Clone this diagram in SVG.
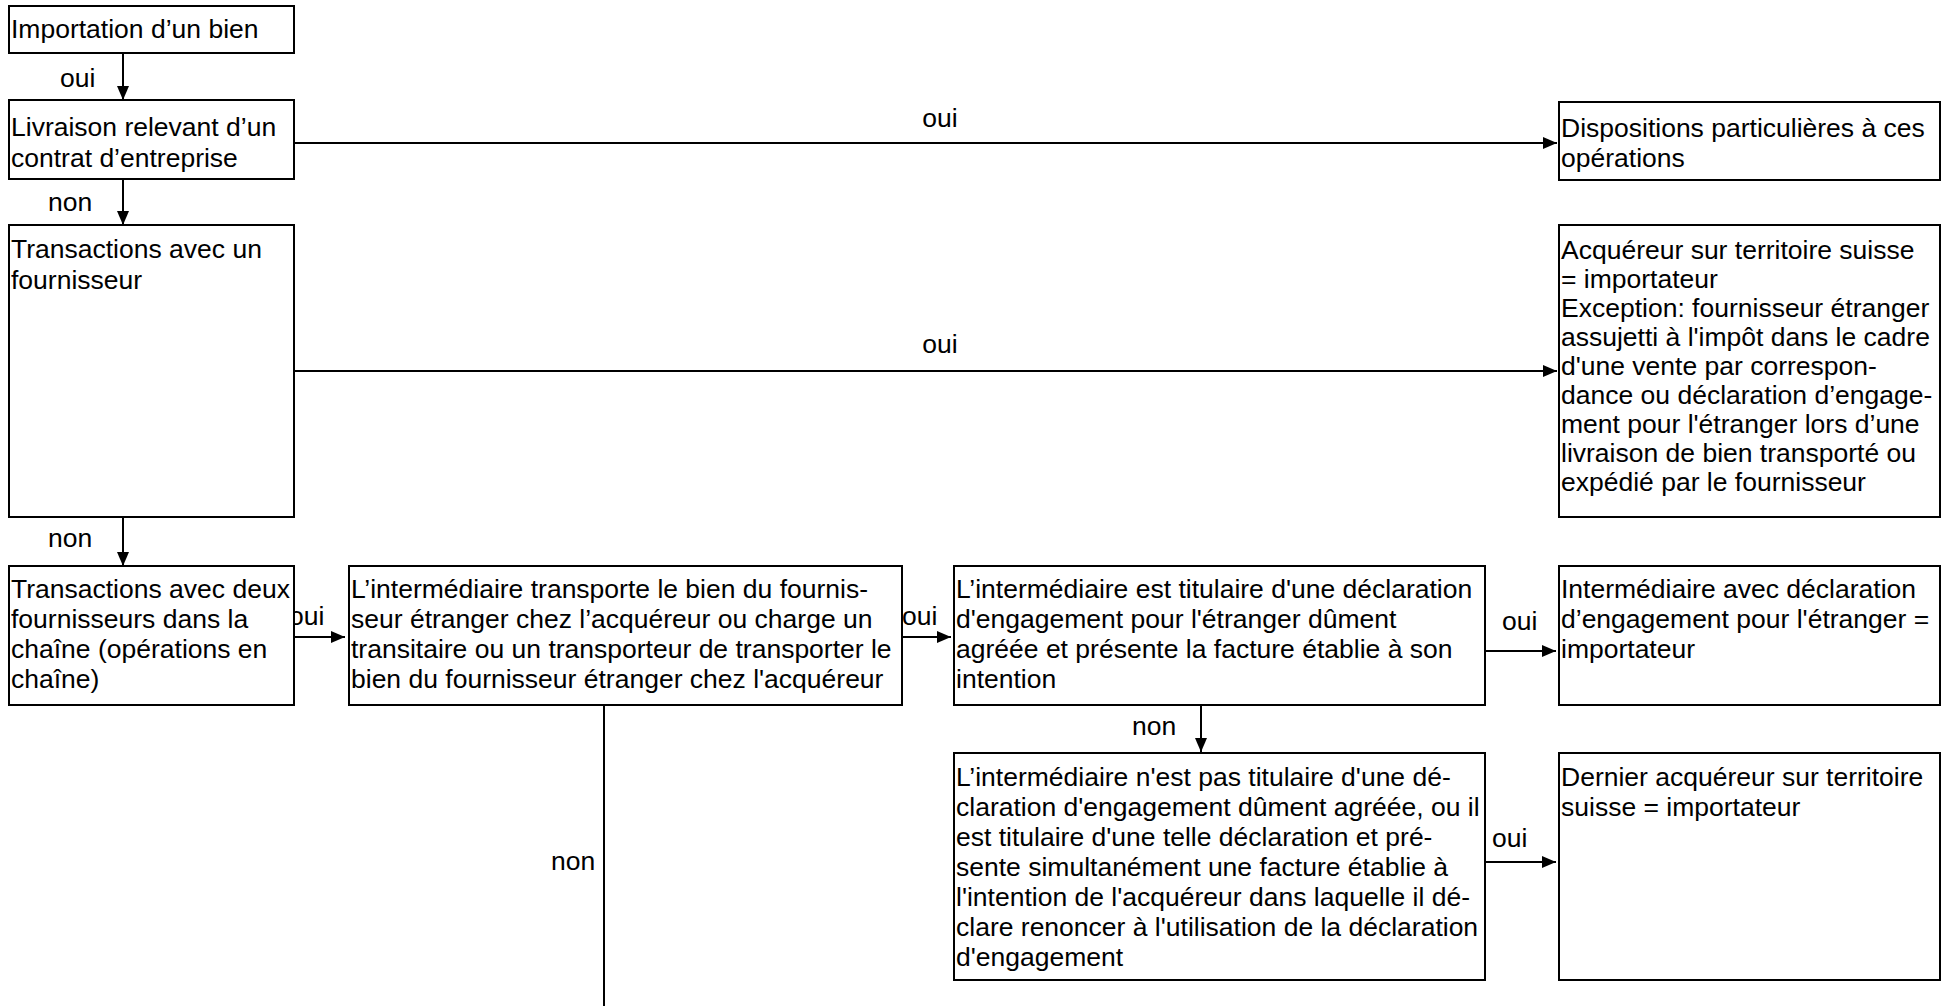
<svg xmlns="http://www.w3.org/2000/svg" width="1945" height="1006" viewBox="0 0 1945 1006">
  <style>
    .box { fill: #ffffff; stroke: #000000; stroke-width: 2; }
    .t { font-family: "Liberation Sans", Arial, sans-serif; font-size: 26.5px; fill: #000000; }
    .lbl { font-family: "Liberation Sans", Arial, sans-serif; font-size: 26.5px; fill: #000000; }
    .edge { stroke: #000000; stroke-width: 2; fill: none; }
    .arrow { marker-end: url(#head); }
  </style>
  <defs>
    <marker id="head" markerUnits="userSpaceOnUse" markerWidth="14" markerHeight="12" refX="14" refY="6" orient="auto">
      <path d="M0,0 L14,6 L0,12 z" fill="#000000"/>
    </marker>
  </defs>

  <rect width="1945" height="1006" fill="#ffffff"/>

  <!-- connectors -->
  <g id="connectors">
    <line class="edge arrow" x1="123" y1="53" x2="123" y2="100"/>
    <line class="edge arrow" x1="123" y1="179" x2="123" y2="225"/>
    <line class="edge arrow" x1="123" y1="517" x2="123" y2="566"/>
    <line class="edge arrow" x1="295" y1="143" x2="1557" y2="143"/>
    <line class="edge arrow" x1="295" y1="371" x2="1557" y2="371"/>
    <line class="edge arrow" x1="288" y1="637" x2="345" y2="637"/>
    <line class="edge arrow" x1="893" y1="637" x2="951" y2="637"/>
    <line class="edge arrow" x1="1485" y1="651" x2="1556" y2="651"/>
    <line class="edge arrow" x1="1201" y1="705" x2="1201" y2="752"/>
    <line class="edge arrow" x1="1485" y1="862" x2="1556" y2="862"/>
    <line class="edge" x1="604" y1="705" x2="604" y2="1006"/>

    <text class="lbl" x="60" y="87">oui</text>
    <text class="lbl" x="48" y="211">non</text>
    <text class="lbl" x="48" y="547">non</text>
    <text class="lbl" x="940" y="127" text-anchor="middle">oui</text>
    <text class="lbl" x="940" y="353" text-anchor="middle">oui</text>
    <text class="lbl" x="289" y="625">oui</text>
    <text class="lbl" x="902" y="625">oui</text>
    <text class="lbl" x="1502" y="630">oui</text>
    <text class="lbl" x="1132" y="735">non</text>
    <text class="lbl" x="1492" y="847">oui</text>
    <text class="lbl" x="551" y="870">non</text>
  </g>

  <!-- nodes -->
  <g id="n-import">
    <rect class="box" x="9" y="6" width="285" height="47"/>
    <text class="t" x="11" y="38">Importation d’un bien</text>
  </g>

  <g id="n-contrat">
    <rect class="box" x="9" y="100" width="285" height="79"/>
    <text class="t" x="11" y="136">Livraison relevant d’un</text>
    <text class="t" x="11" y="167">contrat d’entreprise</text>
  </g>

  <g id="n-un-fournisseur">
    <rect class="box" x="9" y="225" width="285" height="292"/>
    <text class="t" x="11" y="258">Transactions avec un</text>
    <text class="t" x="11" y="289">fournisseur</text>
  </g>

  <g id="n-deux-fournisseurs">
    <rect class="box" x="9" y="566" width="285" height="139"/>
    <text class="t" x="11" y="598">Transactions avec deux</text>
    <text class="t" x="11" y="628">fournisseurs dans la</text>
    <text class="t" x="11" y="658">chaîne (opérations en</text>
    <text class="t" x="11" y="688">chaîne)</text>
  </g>

  <g id="n-transport">
    <rect class="box" x="349" y="566" width="553" height="139"/>
    <text class="t" x="351" y="598">L’intermédiaire transporte le bien du fournis-</text>
    <text class="t" x="351" y="628">seur étranger chez l’acquéreur ou charge un</text>
    <text class="t" x="351" y="658">transitaire ou un transporteur de transporter le</text>
    <text class="t" x="351" y="688">bien du fournisseur étranger chez l'acquéreur</text>
  </g>

  <g id="n-titulaire">
    <rect class="box" x="954" y="566" width="531" height="139"/>
    <text class="t" x="956" y="598">L’intermédiaire est titulaire d'une déclaration</text>
    <text class="t" x="956" y="628">d'engagement pour l'étranger dûment</text>
    <text class="t" x="956" y="658">agréée et présente la facture établie à son</text>
    <text class="t" x="956" y="688">intention</text>
  </g>

  <g id="n-pas-titulaire">
    <rect class="box" x="954" y="753" width="531" height="227"/>
    <text class="t" x="956" y="786">L’intermédiaire n'est pas titulaire d'une dé-</text>
    <text class="t" x="956" y="816">claration d'engagement dûment agréée, ou il</text>
    <text class="t" x="956" y="846">est titulaire d'une telle déclaration et pré-</text>
    <text class="t" x="956" y="876">sente simultanément une facture établie à</text>
    <text class="t" x="956" y="906">l'intention de l'acquéreur dans laquelle il dé-</text>
    <text class="t" x="956" y="936">clare renoncer à l'utilisation de la déclaration</text>
    <text class="t" x="956" y="966">d'engagement</text>
  </g>

  <g id="n-dispositions">
    <rect class="box" x="1559" y="102" width="381" height="78"/>
    <text class="t" x="1561" y="137">Dispositions particulières à ces</text>
    <text class="t" x="1561" y="167">opérations</text>
  </g>

  <g id="n-acquereur">
    <rect class="box" x="1559" y="225" width="381" height="292"/>
    <text class="t" x="1561" y="259">Acquéreur sur territoire suisse</text>
    <text class="t" x="1561" y="288">= importateur</text>
    <text class="t" x="1561" y="317">Exception: fournisseur étranger</text>
    <text class="t" x="1561" y="346">assujetti à l'impôt dans le cadre</text>
    <text class="t" x="1561" y="375">d'une vente par correspon-</text>
    <text class="t" x="1561" y="404">dance ou déclaration d’engage-</text>
    <text class="t" x="1561" y="433">ment pour l'étranger lors d’une</text>
    <text class="t" x="1561" y="462">livraison de bien transporté ou</text>
    <text class="t" x="1561" y="491">expédié par le fournisseur</text>
  </g>

  <g id="n-intermediaire-importateur">
    <rect class="box" x="1559" y="566" width="381" height="139"/>
    <text class="t" x="1561" y="598">Intermédiaire avec déclaration</text>
    <text class="t" x="1561" y="628">d’engagement pour l'étranger =</text>
    <text class="t" x="1561" y="658">importateur</text>
  </g>

  <g id="n-dernier-acquereur">
    <rect class="box" x="1559" y="753" width="381" height="227"/>
    <text class="t" x="1561" y="786">Dernier acquéreur sur territoire</text>
    <text class="t" x="1561" y="816">suisse = importateur</text>
  </g>
</svg>
